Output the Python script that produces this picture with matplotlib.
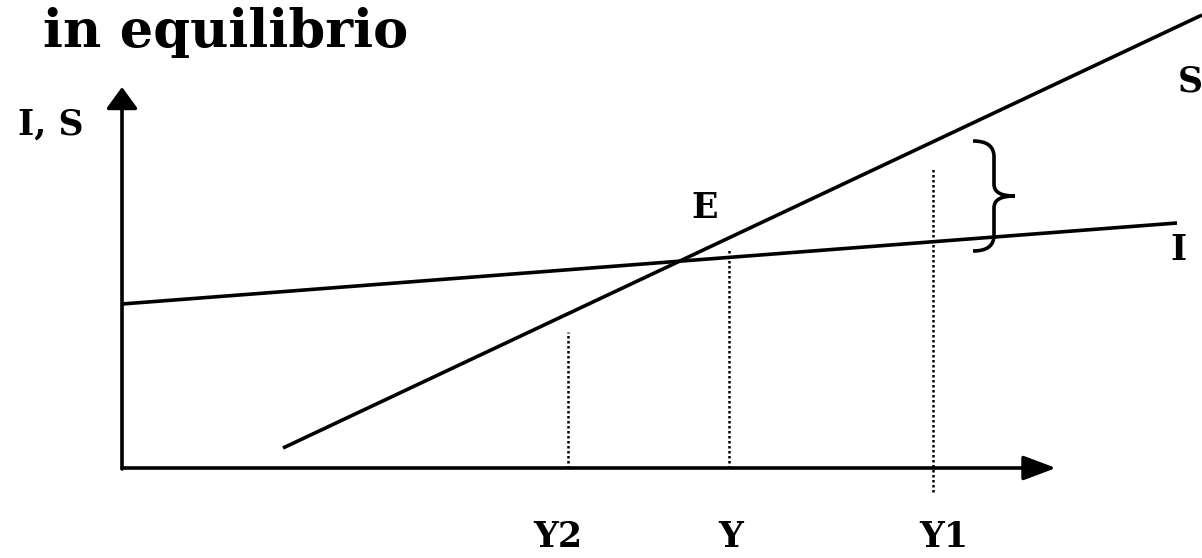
import numpy as np
import matplotlib
matplotlib.use("Agg")
import matplotlib.pyplot as plt
from matplotlib.path import Path
from matplotlib.patches import PathPatch

# -------------------------------------------------------------
# Diagram values (income on x, investment / saving on y)
# -------------------------------------------------------------
saving_x = [161, 1080]
saving_y = [20, 453]
invest_x = [0, 1055]
invest_y = [164, 245]

income_labels = ["Y2", "Y", "Y1"]
income_x = [446, 607, 811]
guide_top = [136, 218, 300]
guide_bottom = [0, 0, -24]
label_x = [436, 609, 822]

axis_x_end = 934
axis_y_end = 381

gap_x = 851
gap_low = 217
gap_high = 327

FONT = "DejaVu Serif"
LW = 2.6

fig = plt.figure(figsize=(12.02, 5.58), dpi=100)
ax = fig.add_axes([0, 0, 1, 1])
ax.set_xlim(-122, 1080)
ax.set_ylim(-90, 468)
ax.axis("off")

# axes with arrow heads
ax.annotate("", xy=(axis_x_end, 0), xytext=(0, 0),
            arrowprops=dict(arrowstyle="-|>,head_length=0.4,head_width=0.15",
                            mutation_scale=50, lw=LW, color="black",
                            shrinkA=0, shrinkB=0))
ax.annotate("", xy=(0, axis_y_end), xytext=(0, -1),
            arrowprops=dict(arrowstyle="-|>,head_length=0.33,head_width=0.24",
                            mutation_scale=40, lw=LW, color="black",
                            shrinkA=0, shrinkB=0))

# saving and investment schedules
ax.plot(saving_x, saving_y, color="black", lw=LW, solid_capstyle="butt")
ax.plot(invest_x, invest_y, color="black", lw=LW, solid_capstyle="butt")

# dotted guides at income levels
for xv, lo, hi in zip(income_x, guide_bottom, guide_top):
    ax.plot([xv, xv], [lo, hi], color="black", lw=1.8, ls=(0, (1, 1)))

# curly brace for the gap between S and I at Y1
x0, xm, xt = gap_x, gap_x + 21, gap_x + 42
ym = (gap_low + gap_high) / 2
verts = [
    (x0, gap_high),
    (xm - 6, gap_high), (xm, gap_high - 6), (xm, gap_high - 16),
    (xm, ym + 12),
    (xm, ym + 3), (xm + 8, ym), (xt, ym),
    (xm + 8, ym), (xm, ym - 3), (xm, ym - 12),
    (xm, gap_low + 16),
    (xm, gap_low + 6), (xm - 6, gap_low), (x0, gap_low),
]
codes = [Path.MOVETO,
         Path.CURVE4, Path.CURVE4, Path.CURVE4,
         Path.LINETO,
         Path.CURVE4, Path.CURVE4, Path.CURVE4,
         Path.CURVE4, Path.CURVE4, Path.CURVE4,
         Path.LINETO,
         Path.CURVE4, Path.CURVE4, Path.CURVE4]
ax.add_patch(PathPatch(Path(verts, codes), facecolor="none",
                       edgecolor="black", lw=LW))

# text
ax.text(-79, 421, "in equilibrio", family=FONT, weight="bold",
        fontsize=38, ha="left", va="baseline")
ax.text(-71, 333, "I, S", family=FONT, weight="bold",
        fontsize=25, ha="center", va="baseline")
ax.text(583, 250, "E", family=FONT, weight="bold",
        fontsize=25, ha="center", va="baseline")
ax.text(1056, 376, "S", family=FONT, weight="bold",
        fontsize=25, ha="left", va="baseline")
ax.text(1056, 208, "I", family=FONT, weight="bold",
        fontsize=25, ha="center", va="baseline")
for lab, xv in zip(income_labels, label_x):
    ax.text(xv, -79, lab, family=FONT, weight="bold",
            fontsize=25, ha="center", va="baseline")

fig.savefig("out.png", dpi=100)
